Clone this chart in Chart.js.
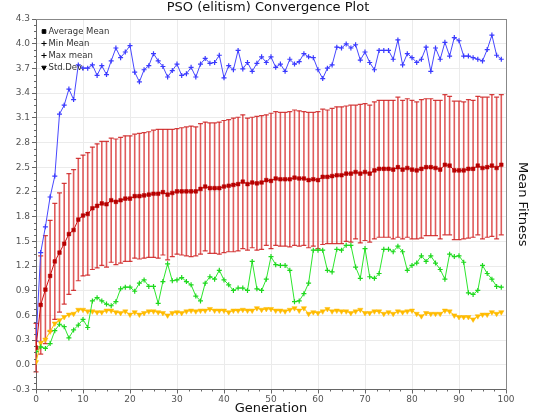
<!DOCTYPE html>
<html>
<head>
<meta charset="utf-8">
<script src="https://cdn.jsdelivr.net/npm/chart.js@4.4.1/dist/chart.umd.min.js"></script>
<style>
  html, body { margin: 0; padding: 0; background: #fff; }
  canvas { display: block; }
</style>
</head>
<body>
<canvas id="plot" width="536" height="417"></canvas>
<script>
// generations 0..99
var generations = Array.from({ length: 100 }, function (_, i) { return i; });

var avgMean = [
  0.22, 0.75, 0.94, 1.11, 1.29, 1.40, 1.51, 1.63, 1.68, 1.81,
  1.86, 1.88, 1.95, 1.98, 2.01, 2.00, 2.05, 2.03, 2.05, 2.07,
  2.07, 2.10, 2.10, 2.11, 2.12, 2.13, 2.13, 2.15, 2.12, 2.14,
  2.16, 2.16, 2.16, 2.16, 2.16, 2.19, 2.22, 2.20, 2.20, 2.20,
  2.22, 2.23, 2.24, 2.25, 2.28, 2.25, 2.27, 2.26, 2.27, 2.30,
  2.29, 2.32, 2.31, 2.31, 2.31, 2.33, 2.32, 2.32, 2.30, 2.31,
  2.30, 2.34, 2.34, 2.35, 2.36, 2.36, 2.38, 2.38, 2.40, 2.38,
  2.40, 2.38, 2.42, 2.44, 2.44, 2.44, 2.43, 2.46, 2.43, 2.45,
  2.43, 2.42, 2.44, 2.46, 2.46, 2.45, 2.43, 2.49, 2.48, 2.42,
  2.42, 2.42, 2.44, 2.44, 2.48, 2.45, 2.46, 2.48, 2.45, 2.49
];

// half length of the error bar drawn around the average
var avgErr = [
  0.30, 0.61, 0.67, 0.69, 0.72, 0.74, 0.75, 0.75, 0.75, 0.76,
  0.75, 0.76, 0.76, 0.77, 0.77, 0.78, 0.77, 0.78, 0.78, 0.78,
  0.78, 0.77, 0.78, 0.78, 0.78, 0.79, 0.80, 0.78, 0.81, 0.79,
  0.78, 0.79, 0.80, 0.81, 0.80, 0.81, 0.80, 0.81, 0.81, 0.82,
  0.82, 0.82, 0.83, 0.83, 0.83, 0.82, 0.81, 0.83, 0.83, 0.81,
  0.84, 0.83, 0.83, 0.83, 0.84, 0.84, 0.84, 0.83, 0.84, 0.83,
  0.85, 0.84, 0.83, 0.84, 0.85, 0.85, 0.84, 0.85, 0.83, 0.86,
  0.85, 0.85, 0.85, 0.85, 0.85, 0.85, 0.86, 0.87, 0.86, 0.86,
  0.86, 0.85, 0.86, 0.85, 0.85, 0.84, 0.86, 0.87, 0.86, 0.86,
  0.86, 0.85, 0.86, 0.85, 0.86, 0.88, 0.87, 0.88, 0.88, 0.87
];

var minMean = [
  0.17, 0.23, 0.21, 0.27, 0.43, 0.51, 0.48, 0.34, 0.44, 0.50,
  0.57, 0.47, 0.80, 0.84, 0.80, 0.76, 0.74, 0.79, 0.95, 0.97,
  0.97, 0.92, 1.02, 1.06, 0.98, 0.98, 0.77, 1.04, 1.26, 1.05,
  1.06, 1.09, 1.04, 1.00, 0.86, 0.80, 1.02, 1.10, 1.07, 1.18,
  1.06, 1.00, 0.93, 0.96, 0.96, 0.93, 1.29, 0.95, 0.93, 1.07,
  1.35, 1.25, 1.24, 1.24, 1.18, 0.79, 0.80, 0.89, 1.02, 1.43,
  1.43, 1.43, 1.18, 1.16, 1.44, 1.43, 1.49, 1.49, 1.22, 1.08,
  1.45, 1.10, 1.08, 1.14, 1.44, 1.44, 1.41, 1.48, 1.41, 1.18,
  1.24, 1.27, 1.36, 1.29, 1.36, 1.27, 1.19, 1.07, 1.38, 1.35,
  1.36, 1.28, 0.90, 0.88, 0.93, 1.24, 1.14, 1.07, 0.98, 0.97
];

var maxMean = [
  0.30, 1.40, 1.72, 2.09, 2.35, 3.12, 3.23, 3.43, 3.30, 3.73,
  3.69, 3.69, 3.73, 3.60, 3.72, 3.61, 3.78, 3.94, 3.82, 3.89,
  3.97, 3.64, 3.52, 3.67, 3.72, 3.87, 3.78, 3.71, 3.58, 3.66,
  3.74, 3.60, 3.62, 3.70, 3.58, 3.74, 3.81, 3.75, 3.76, 3.85,
  3.57, 3.72, 3.67, 3.91, 3.68, 3.76, 3.65, 3.75, 3.83, 3.76,
  3.83, 3.70, 3.74, 3.65, 3.80, 3.74, 3.77, 3.87, 3.83, 3.82,
  3.67, 3.56, 3.69, 3.73, 3.95, 3.94, 3.99, 3.94, 3.98, 3.79,
  3.89, 3.76, 3.67, 3.91, 3.91, 3.91, 3.80, 4.04, 3.73, 3.87,
  3.82, 3.76, 3.80, 3.95, 3.65, 3.94, 3.80, 4.01, 3.84, 4.07,
  4.03, 3.84, 3.84, 3.82, 3.80, 3.78, 3.92, 4.10, 3.85, 3.80
];

var stdDev = [
  0.04, 0.28, 0.32, 0.42, 0.52, 0.56, 0.60, 0.63, 0.64, 0.69,
  0.69, 0.67, 0.67, 0.66, 0.66, 0.68, 0.68, 0.66, 0.65, 0.67,
  0.63, 0.66, 0.63, 0.65, 0.67, 0.67, 0.66, 0.65, 0.62, 0.65,
  0.66, 0.65, 0.67, 0.68, 0.67, 0.68, 0.68, 0.70, 0.68, 0.68,
  0.68, 0.66, 0.68, 0.68, 0.69, 0.68, 0.68, 0.71, 0.69, 0.70,
  0.70, 0.68, 0.68, 0.67, 0.69, 0.71, 0.68, 0.71, 0.64, 0.66,
  0.65, 0.67, 0.70, 0.67, 0.68, 0.67, 0.67, 0.65, 0.67, 0.69,
  0.65, 0.65, 0.67, 0.67, 0.64, 0.66, 0.64, 0.67, 0.66, 0.67,
  0.68, 0.64, 0.61, 0.65, 0.64, 0.64, 0.64, 0.68, 0.67, 0.62,
  0.60, 0.60, 0.60, 0.57, 0.61, 0.63, 0.63, 0.66, 0.64, 0.66
];

var yMin = -0.3, yMax = 4.3;
var yTickLabels = ['-0.3', '0.0', '0.3', '0.6', '0.9', '1.2', '1.5', '1.8',
                   '2.2', '2.5', '2.8', '3.1', '3.4', '3.7', '4.0', '4.3'];
var xMin = 0, xMax = 100, xStep = 10;

function pts(arr) {
  return generations.map(function (g, i) { return { x: g, y: arr[i] }; });
}

Chart.defaults.font.family = 'DejaVu Sans';

var tickFont = { family: 'DejaVu Sans', size: 9 };
var titleFont = { family: 'DejaVu Sans', size: 13, weight: 'normal' };

// error bars for the average series
var errorBars = {
  id: 'errorBars',
  beforeDatasetsDraw: function (chart) {
    var ctx = chart.ctx, xs = chart.scales.x, ys = chart.scales.y;
    ctx.save();
    ctx.strokeStyle = 'rgba(215,45,45,0.78)';
    ctx.lineWidth = 1.6;
    ctx.beginPath();
    generations.forEach(function (g, i) {
      var px = xs.getPixelForValue(g);
      var hi = ys.getPixelForValue(avgMean[i] + avgErr[i]);
      var lo = ys.getPixelForValue(avgMean[i] - avgErr[i]);
      ctx.moveTo(px, hi); ctx.lineTo(px, lo);
    });
    ctx.stroke();
    ctx.lineWidth = 1.2;
    ctx.strokeStyle = 'rgba(205,30,30,0.85)';
    ctx.beginPath();
    generations.forEach(function (g, i) {
      var px = xs.getPixelForValue(g);
      var hi = ys.getPixelForValue(avgMean[i] + avgErr[i]);
      var lo = ys.getPixelForValue(avgMean[i] - avgErr[i]);
      ctx.moveTo(px - 2.5, hi); ctx.lineTo(px + 2.5, hi);
      ctx.moveTo(px - 2.5, lo); ctx.lineTo(px + 2.5, lo);
    });
    ctx.stroke();
    ctx.restore();
  }
};

// frame + minor ticks + inner legend
var decorations = {
  id: 'decorations',
  beforeDatasetsDraw: function (chart) {
    var ctx = chart.ctx, a = chart.chartArea;
    ctx.save();
    ctx.strokeStyle = '#888';
    ctx.lineWidth = 1;
    ctx.beginPath();
    ctx.moveTo(a.left, a.top + 0.5);
    ctx.lineTo(a.right, a.top + 0.5);
    ctx.stroke();

    ctx.strokeStyle = '#666';
    ctx.beginPath();
    var xs = chart.scales.x;
    for (var v = xMin; v <= xMax; v += xStep / 4) {
      if (v % xStep === 0) continue;
      var px = Math.round(xs.getPixelForValue(v)) + 0.5;
      ctx.moveTo(px, a.bottom); ctx.lineTo(px, a.bottom + 2);
    }
    var ys = chart.scales.y;
    var n = (yTickLabels.length - 1) * 4;
    for (var k = 0; k <= n; k++) {
      if (k % 4 === 0) continue;
      var py = Math.round(ys.getPixelForValue(yMin + k * (yMax - yMin) / n)) + 0.5;
      ctx.moveTo(a.left - 2, py); ctx.lineTo(a.left, py);
    }
    ctx.stroke();
    ctx.restore();
  },
  afterDraw: function (chart) {
    var ctx = chart.ctx, a = chart.chartArea;
    ctx.save();
    ctx.font = '8.5px "DejaVu Sans"';
    ctx.textBaseline = 'middle';
    var order = [0, 1, 2, 3];
    order.forEach(function (di, row) {
      var ds = chart.data.datasets[di];
      var mx = a.left + 8, my = a.top + 12.5 + row * 12;
      ctx.fillStyle = '#000';
      ctx.strokeStyle = '#000';
      ctx.lineWidth = 1;
      Chart.helpers.drawPoint(ctx, {
        pointStyle: ds.pointStyle, radius: 2.6, rotation: ds.pointRotation || 0, borderWidth: 1
      }, mx, my);
      ctx.fillStyle = '#333';
      ctx.fillText(ds.label, mx + 4.5, my);
    });
    ctx.restore();
  }
};

new Chart(document.getElementById('plot'), {
  type: 'line',
  data: {
    datasets: [
      {
        label: 'Average Mean',
        data: pts(avgMean),
        borderColor: '#cc1010',
        backgroundColor: '#b80000',
        pointBackgroundColor: '#b80000',
        pointBorderColor: '#b80000',
        borderWidth: 1,
        pointStyle: 'rect',
        pointRadius: 2.6,
        pointBorderWidth: 0.5
      },
      {
        label: 'Min Mean',
        data: pts(minMean),
        borderColor: '#2ee62e',
        backgroundColor: '#2ee62e',
        pointBorderColor: '#1ed81e',
        borderWidth: 1,
        pointStyle: 'cross',
        pointRadius: 2.5,
        pointBorderWidth: 1.2
      },
      {
        label: 'Max mean',
        data: pts(maxMean),
        borderColor: '#4848ff',
        backgroundColor: '#4848ff',
        pointBorderColor: '#3a3aff',
        borderWidth: 1,
        pointStyle: 'cross',
        pointRadius: 2.5,
        pointBorderWidth: 1.2
      },
      {
        label: 'Std.Dev.',
        data: pts(stdDev),
        borderColor: '#ffc000',
        backgroundColor: '#ffbb00',
        pointBackgroundColor: '#ffbb00',
        pointBorderColor: '#ffbb00',
        borderWidth: 1,
        pointStyle: 'triangle',
        pointRotation: 180,
        pointRadius: 3,
        pointBorderWidth: 0.5
      }
    ]
  },
  options: {
    responsive: false,
    animation: false,
    events: [],
    layout: { padding: 0 },
    elements: { line: { tension: 0 } },
    plugins: {
      legend: { display: false },
      tooltip: { enabled: false },
      title: {
        display: true,
        text: 'PSO (elitism) Convergence Plot',
        color: '#111',
        font: titleFont,
        padding: { top: 0, bottom: 3.4 }
      }
    },
    scales: {
      x: {
        type: 'linear',
        min: xMin,
        max: xMax,
        ticks: { stepSize: xStep, font: tickFont, color: '#555', padding: 1, maxRotation: 0 },
        grid: { color: '#ebebeb', tickColor: '#666', tickLength: 4 },
        border: { color: '#666' },
        title: { display: true, text: 'Generation', color: '#111', font: titleFont, padding: { top: 0, bottom: 1 } },
        afterFit: function (s) { s.height = 27.5; }
      },
      y: {
        min: yMin,
        max: yMax,
        afterBuildTicks: function (axis) {
          axis.ticks = yTickLabels.map(function (_, i) {
            return { value: yMin + i * (yMax - yMin) / (yTickLabels.length - 1) };
          });
        },
        ticks: {
          font: tickFont, color: '#555', padding: 2,
          callback: function (value, index) { return yTickLabels[index]; }
        },
        grid: { color: '#ebebeb', tickColor: '#666', tickLength: 4 },
        border: { color: '#666' },
        afterFit: function (s) { s.width = 36; }
      },
      y2: {
        position: 'right',
        min: yMin,
        max: yMax,
        ticks: { display: false },
        grid: { display: false, drawTicks: false },
        border: { display: true, color: '#888' },
        title: { display: true, text: 'Mean Fitness', color: '#111', font: titleFont, padding: { top: 6, bottom: 0 } },
        afterFit: function (s) { s.width = 30; }
      }
    }
  },
  plugins: [errorBars, decorations]
});
</script>
</body>
</html>
